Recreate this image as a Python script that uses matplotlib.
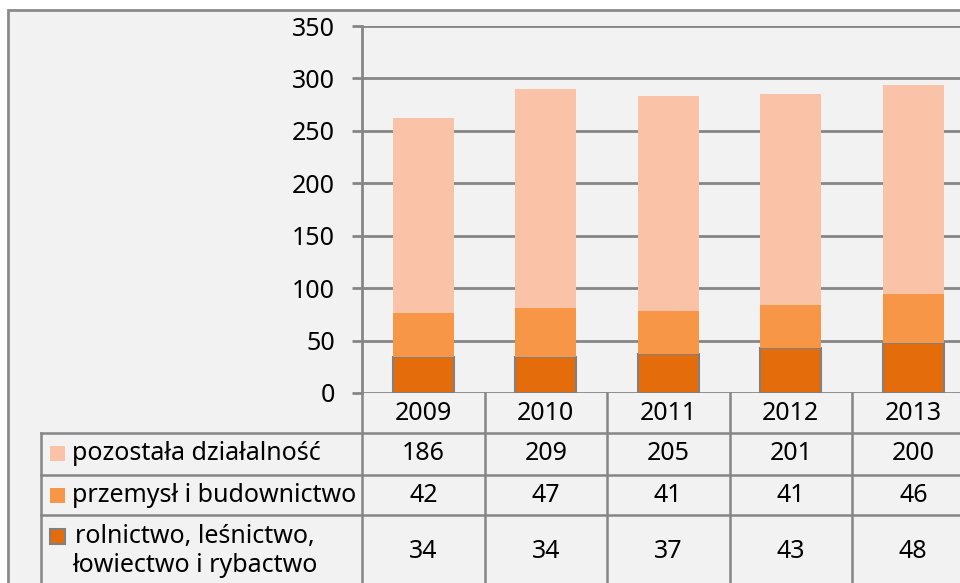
import matplotlib.pyplot as plt
from matplotlib.patches import Rectangle

years = ["2009", "2010", "2011", "2012", "2013"]
rolnictwo = [34, 34, 37, 43, 48]
przemysl = [42, 47, 41, 41, 46]
pozostala = [186, 209, 205, 201, 200]

labels = ["pozostała działalność", "przemysł i budownictwo",
          "rolnictwo, leśnictwo,\nłowiectwo i rybactwo"]
colors = ["#FAC3A8", "#F79646", "#E46C0A"]
yticks = [0, 50, 100, 150, 200, 250, 300, 350]

plt.rcParams['font.family'] = ['Noto Sans', 'DejaVu Sans']
plt.rcParams['font.size'] = 18

W, H = 960, 583
grid_c = "#868686"
fig = plt.figure(figsize=(W / 100, H / 100), dpi=100, facecolor="white")

# grey panel behind everything
fig.patches.append(Rectangle((8 / W, -0.1), 1.1, 1 - 10 / H + 0.1, transform=fig.transFigure,
                             facecolor="#F2F2F2", edgecolor="#8A8A8A", lw=2, zorder=-10))

# pixel layout
ax_l, ax_r, ax_t, ax_b = 362, 974.5, 26, 393
col_w = (ax_r - ax_l) / len(years)
ax = fig.add_axes([ax_l / W, 1 - ax_b / H, (ax_r - ax_l) / W, (ax_b - ax_t) / H])
ax.set_facecolor("none")
x = list(range(len(years)))
bw = 0.5
ax.bar(x, rolnictwo, bw, color=colors[2], edgecolor="#808080", lw=1.5, zorder=3)
ax.bar(x, przemysl, bw, bottom=rolnictwo, color=colors[1], zorder=3)
bot2 = [a + b for a, b in zip(rolnictwo, przemysl)]
ax.bar(x, pozostala, bw, bottom=bot2, color=colors[0], zorder=3)
ax.set_xlim(-0.5, len(years) - 0.5)
ax.set_ylim(0, 350)
ax.set_yticks(yticks)
ax.set_xticks([])
ax.yaxis.grid(True, color=grid_c, lw=2)
ax.set_axisbelow(True)
ax.tick_params(axis="y", length=7.5, width=2, color=grid_c, pad=12, labelsize=18)
for s in ["top", "right", "bottom"]:
    ax.spines[s].set_visible(False)
ax.spines["left"].set_color(grid_c)
ax.spines["left"].set_linewidth(2)

# data table below
tab_l = 41
tab = fig.add_axes([tab_l / W, 0, (ax_r - tab_l) / W, (H - ax_b) / H])
tab.set_xlim(-0.5 - (ax_l - tab_l) / col_w, len(years) - 0.5)
tab.set_ylim(H, ax_b)
tab.axis("off")
xl = -0.5 - (ax_l - tab_l) / col_w
rows = [393, 433, 475, 515, 600]
lw = 1.8
for i in range(len(years) + 1):
    tab.plot([i - 0.5, i - 0.5], [rows[0], rows[-1]], color=grid_c, lw=lw, clip_on=False)
tab.plot([xl, xl], [rows[1], rows[-1]], color=grid_c, lw=lw, clip_on=False)
for r in rows[1:4]:
    tab.plot([xl, len(years) - 0.5], [r, r], color=grid_c, lw=lw, clip_on=False)

for i, y in enumerate(years):
    tab.text(i, (rows[0] + rows[1]) / 2, y, ha="center", va="center")

centers = [454, 495, 552]
series = [pozostala, przemysl, rolnictwo]
def px2x(px):
    return (px - ax_l) / col_w - 0.5

for k, (vals, lab, c) in enumerate(zip(series, labels, colors)):
    for i, v in enumerate(vals):
        tab.text(i, centers[k], str(v), ha="center", va="center")
    sq_top = [446, 488, 529][k]
    tab.add_patch(Rectangle((px2x(50), sq_top), px2x(65) - px2x(50), 15, facecolor=c,
                            edgecolor="#808080" if k == 2 else c, lw=1.5 if k == 2 else 0))
    if k < 2:
        tab.text(px2x(72), centers[k], lab, ha="left", va="center")
    else:
        l1, l2 = lab.split("\n")
        tab.text(px2x(75), 537, l1, ha="left", va="center")
        tab.text(px2x(72), 566, l2, ha="left", va="center")

fig.savefig("out.png", dpi=100)
